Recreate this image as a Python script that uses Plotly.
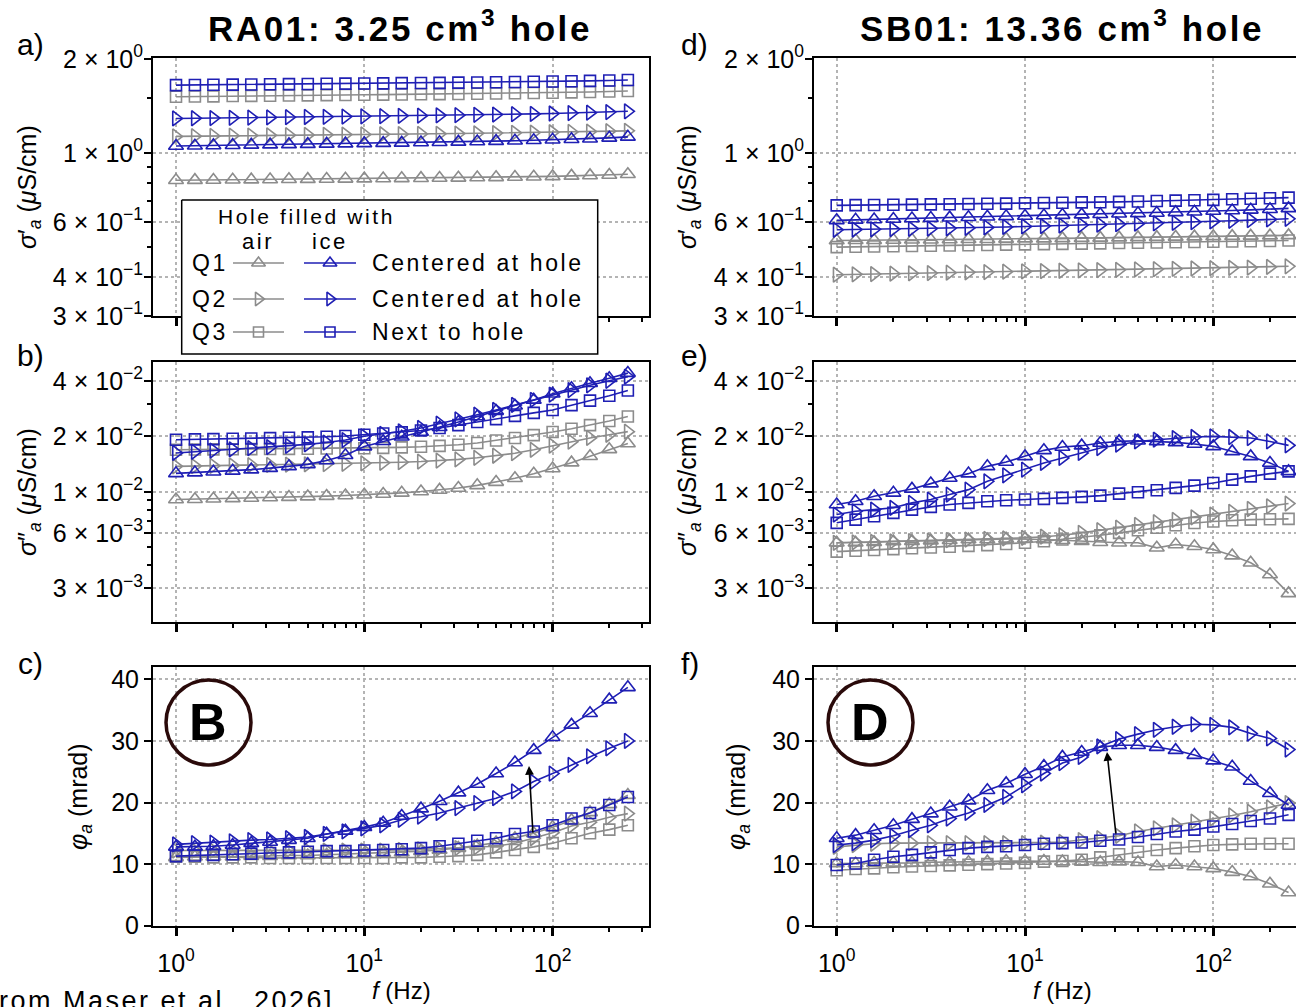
import plotly.graph_objects as go

W, H = 1296, 1007
FONT = "Liberation Sans, Arial, sans-serif"
BLUE = "#1f1fb4"
GRAY = "#8c8c8c"

# ---------------- data ----------------
freq = [1, 1.26, 1.58, 2.0, 2.51, 3.16, 3.98, 5.01, 6.31, 7.94, 10, 12.6, 15.8,
        20.0, 25.1, 31.6, 39.8, 50.1, 63.1, 79.4, 100, 126, 158, 200, 251]

series_names = ["Q1 air", "Q2 air", "Q3 air", "Q1 ice", "Q2 ice", "Q3 ice"]

# RA01 real conductivity (uS/cm)
ra_sr_q1_air = [0.817,0.818,0.819,0.820,0.821,0.822,0.823,0.824,0.825,0.826,0.827,0.828,0.829,0.830,0.831,0.832,0.834,0.835,0.837,0.839,0.841,0.844,0.847,0.850,0.854]
ra_sr_q2_air = [1.130,1.132,1.134,1.136,1.137,1.139,1.140,1.142,1.143,1.145,1.146,1.148,1.149,1.151,1.152,1.154,1.156,1.158,1.160,1.162,1.165,1.168,1.171,1.174,1.177]
ra_sr_q3_air = [1.514,1.517,1.519,1.522,1.524,1.526,1.528,1.530,1.532,1.534,1.536,1.538,1.540,1.542,1.544,1.546,1.549,1.551,1.554,1.557,1.560,1.564,1.568,1.574,1.580]
ra_sr_q1_ice = [1.053,1.055,1.057,1.059,1.061,1.063,1.065,1.067,1.069,1.071,1.073,1.075,1.077,1.080,1.082,1.085,1.088,1.091,1.094,1.098,1.102,1.106,1.111,1.118,1.126]
ra_sr_q2_ice = [1.290,1.292,1.294,1.296,1.298,1.300,1.302,1.304,1.306,1.308,1.310,1.312,1.315,1.317,1.320,1.322,1.325,1.328,1.331,1.334,1.338,1.342,1.346,1.352,1.360]
ra_sr_q3_ice = [1.650,1.652,1.654,1.656,1.658,1.660,1.662,1.664,1.666,1.668,1.670,1.672,1.674,1.676,1.678,1.681,1.683,1.686,1.689,1.692,1.695,1.698,1.702,1.707,1.713]

# RA01 imaginary conductivity (uS/cm)
ra_si_q1_air = [0.00909,0.00913,0.00918,0.00922,0.00927,0.00932,0.00937,0.00943,0.00949,0.00956,0.00965,0.00975,0.00988,0.01005,0.01025,0.01050,0.01085,0.01130,0.01185,0.01255,0.01340,0.01440,0.01560,0.01700,0.01830]
ra_si_q2_air = [0.01375,0.01380,0.01385,0.01390,0.01395,0.01400,0.01405,0.01410,0.01415,0.01420,0.01428,0.01437,0.01448,0.01460,0.01478,0.01500,0.01530,0.01570,0.01620,0.01690,0.01780,0.01870,0.01960,0.02040,0.02120]
ra_si_q3_air = [0.01693,0.01696,0.01699,0.01702,0.01705,0.01708,0.01711,0.01714,0.01717,0.01720,0.01725,0.01732,0.01742,0.01755,0.01775,0.01800,0.01840,0.01900,0.01960,0.02030,0.02110,0.02200,0.02300,0.02420,0.02560]
ra_si_q1_ice = [0.01260,0.01272,0.01285,0.01300,0.01320,0.01345,0.01375,0.01410,0.01480,0.01580,0.01760,0.01880,0.01990,0.02110,0.02240,0.02390,0.02560,0.02740,0.02930,0.03150,0.03400,0.03640,0.03880,0.04130,0.04400]
ra_si_q2_ice = [0.01625,0.01650,0.01675,0.01700,0.01725,0.01750,0.01775,0.01810,0.01850,0.01910,0.02000,0.02060,0.02130,0.02220,0.02340,0.02470,0.02620,0.02780,0.02960,0.03150,0.03360,0.03560,0.03780,0.04000,0.04210]
ra_si_q3_ice = [0.01918,0.01925,0.01932,0.01940,0.01948,0.01956,0.01965,0.01975,0.01990,0.02010,0.02040,0.02070,0.02100,0.02150,0.02220,0.02300,0.02390,0.02480,0.02580,0.02680,0.02780,0.02950,0.03120,0.03320,0.03540]

# RA01 phase (mrad)
ra_ph_q1_air = [11.1,11.2,11.2,11.2,11.3,11.3,11.4,11.4,11.5,11.6,11.7,11.8,11.9,12.1,12.3,12.6,13.0,13.5,14.2,15.0,16.0,17.1,18.4,19.7,21.2]
ra_ph_q2_air = [12.2,12.2,12.2,12.2,12.2,12.2,12.2,12.2,12.2,12.2,12.2,12.2,12.3,12.4,12.5,12.6,12.7,12.9,13.4,14.2,15.1,16.2,16.8,17.6,18.2]
ra_ph_q3_air = [11.2,11.2,11.1,11.1,11.1,11.0,11.0,11.0,11.0,11.0,11.0,11.0,11.1,11.1,11.2,11.3,11.5,11.9,12.3,12.8,13.4,14.2,15.0,15.6,16.3]
ra_ph_q1_ice = [12.8,12.8,12.9,13.1,13.4,13.6,13.9,14.2,14.9,15.4,16.0,16.7,17.8,19.0,20.2,21.6,23.0,24.7,26.5,28.5,30.6,32.6,34.5,36.7,38.7]
ra_ph_q2_ice = [13.2,13.4,13.5,13.7,13.9,14.0,14.2,14.4,14.9,15.3,15.8,16.3,17.2,17.7,18.3,19.1,19.9,20.7,21.8,23.4,24.7,26.1,27.5,28.8,30.0]
ra_ph_q3_ice = [11.3,11.4,11.5,11.6,11.7,11.8,11.9,12.0,12.1,12.1,12.2,12.3,12.4,12.6,12.9,13.3,13.8,14.2,14.9,15.3,16.3,17.4,18.3,19.6,20.9]

# SB01 real conductivity (uS/cm)
sb_sr_q1_air = [0.524,0.525,0.525,0.526,0.527,0.527,0.528,0.529,0.529,0.530,0.531,0.531,0.532,0.533,0.534,0.535,0.536,0.537,0.538,0.539,0.540,0.541,0.542,0.543,0.544]
sb_sr_q2_air = [0.407,0.408,0.409,0.410,0.411,0.412,0.413,0.414,0.415,0.416,0.417,0.418,0.419,0.420,0.421,0.422,0.423,0.424,0.425,0.426,0.427,0.428,0.429,0.431,0.433]
sb_sr_q3_air = [0.499,0.500,0.501,0.502,0.503,0.504,0.505,0.506,0.507,0.508,0.509,0.510,0.511,0.512,0.513,0.514,0.515,0.516,0.517,0.518,0.519,0.520,0.521,0.522,0.524]
sb_sr_q1_ice = [0.608,0.610,0.612,0.614,0.616,0.618,0.620,0.622,0.624,0.626,0.628,0.630,0.632,0.634,0.636,0.638,0.640,0.642,0.645,0.648,0.651,0.654,0.657,0.660,0.664]
sb_sr_q2_ice = [0.567,0.568,0.569,0.570,0.571,0.572,0.573,0.575,0.577,0.579,0.581,0.583,0.585,0.587,0.589,0.591,0.593,0.595,0.597,0.600,0.603,0.606,0.609,0.612,0.615]
sb_sr_q3_ice = [0.679,0.680,0.681,0.682,0.683,0.684,0.685,0.686,0.687,0.688,0.690,0.691,0.692,0.694,0.695,0.697,0.699,0.701,0.703,0.705,0.707,0.710,0.713,0.716,0.719]

# SB01 imaginary conductivity (uS/cm)
sb_si_q1_air = [0.00530,0.00530,0.00534,0.00539,0.00541,0.00545,0.00547,0.00552,0.00552,0.00557,0.00557,0.00552,0.00547,0.00541,0.00534,0.00530,0.00530,0.00498,0.00519,0.00508,0.00488,0.00452,0.00413,0.00357,0.00282]
sb_si_q2_air = [0.00530,0.00533,0.00536,0.00539,0.00542,0.00545,0.00548,0.00552,0.00556,0.00560,0.00564,0.00572,0.00582,0.00600,0.00620,0.00640,0.00662,0.00685,0.00705,0.00728,0.00754,0.00780,0.00808,0.00836,0.00865]
sb_si_q3_air = [0.00475,0.00480,0.00485,0.00490,0.00495,0.00500,0.00505,0.00510,0.00515,0.00522,0.00530,0.00540,0.00552,0.00565,0.00582,0.00600,0.00620,0.00640,0.00660,0.00678,0.00692,0.00702,0.00708,0.00711,0.00714]
sb_si_q1_ice = [0.00854,0.00890,0.00947,0.00988,0.01038,0.01109,0.01190,0.01256,0.01375,0.01452,0.01557,0.01679,0.01750,0.01780,0.01839,0.01877,0.01892,0.01877,0.01854,0.01817,0.01765,0.01657,0.01557,0.01435,0.01292]
sb_si_q2_ice = [0.00754,0.00785,0.00802,0.00820,0.00872,0.00909,0.00967,0.01029,0.01141,0.01229,0.01320,0.01435,0.01527,0.01625,0.01729,0.01802,0.01877,0.01918,0.01958,0.01983,0.01998,0.01983,0.01958,0.01877,0.01787]
sb_si_q3_ice = [0.00680,0.00708,0.00738,0.00770,0.00802,0.00830,0.00854,0.00872,0.00890,0.00901,0.00909,0.00917,0.00928,0.00940,0.00955,0.00979,0.00995,0.01020,0.01051,0.01081,0.01118,0.01166,0.01214,0.01256,0.01292]

# SB01 phase (mrad)
sb_ph_q1_air = [10.1,10.1,10.2,10.2,10.2,10.3,10.3,10.3,10.4,10.5,10.5,10.5,10.4,10.4,10.3,10.4,10.3,9.6,9.85,9.6,9.3,8.7,8.0,6.8,5.4]
sb_ph_q2_air = [12.8,13.1,13.3,13.4,13.4,13.4,13.4,13.4,13.4,13.4,13.4,13.5,13.6,13.9,14.2,14.6,15.3,15.8,16.3,16.9,17.4,17.9,18.5,19.2,19.9]
sb_ph_q3_air = [9.0,9.2,9.3,9.5,9.6,9.7,9.8,9.9,10.0,10.1,10.2,10.4,10.5,10.7,11.1,11.6,12.0,12.3,12.6,12.9,13.1,13.2,13.3,13.3,13.3]
sb_ph_q1_ice = [14.2,14.7,15.5,16.3,17.3,18.2,19.3,20.3,22.0,23.1,24.6,25.9,27.4,28.2,29.0,29.3,29.3,29.0,28.5,27.7,26.8,25.8,23.5,21.5,19.6]
sb_ph_q2_ice = [13.1,13.4,13.9,14.6,15.5,16.3,17.4,18.3,19.6,20.9,22.8,24.7,26.4,27.4,29.1,30.3,31.1,31.8,32.3,32.7,32.6,32.2,31.2,30.4,28.6]
sb_ph_q3_ice = [9.85,10.1,10.7,11.2,11.5,11.9,12.3,12.6,12.8,12.9,13.1,13.3,13.4,13.5,13.8,14.0,14.4,14.9,15.3,15.6,16.1,16.5,17.0,17.4,18.0]

# tick labels
x_tickvals = [1, 10, 100]
x_ticktext = ["10<sup>0</sup>", "10<sup>1</sup>", "10<sup>2</sup>"]
sr_tickvals = [2, 1, 0.6, 0.4, 0.3]
sr_ticktext = ["2 × 10<sup>0</sup>", "1 × 10<sup>0</sup>", "6 × 10<sup>−1</sup>", "4 × 10<sup>−1</sup>", "3 × 10<sup>−1</sup>"]
si_tickvals = [0.04, 0.02, 0.01, 0.006, 0.003]
si_ticktext = ["4 × 10<sup>−2</sup>", "2 × 10<sup>−2</sup>", "1 × 10<sup>−2</sup>", "6 × 10<sup>−3</sup>", "3 × 10<sup>−3</sup>"]
ph_tickvals = [0, 10, 20, 30, 40]

# ---------------- layout geometry (pixels) ----------------
def px(x):
    return x / W

def py(y):
    return 1 - y / H

LEFT_X = (153, 649)
RIGHT_X = (814, 1296)
ROWS_Y = [(58.3, 316.0), (362.3, 621.7), (666.7, 925.7)]
X1_PX = {"L": 176.0, "R": 836.7}
DEC = 188.3

sr_range = [-0.5229, 0.3035]
si_range = [-2.703, -1.298]
ph_range = [0, 42.05]

symbols = ["triangle-up-open", "triangle-right-open", "square-open"] * 2
colors = [GRAY] * 3 + [BLUE] * 3
sizes = [13, 13, 11, 13, 13, 11]

panels = [
    ("L", 0, [ra_sr_q1_air, ra_sr_q2_air, ra_sr_q3_air, ra_sr_q1_ice, ra_sr_q2_ice, ra_sr_q3_ice]),
    ("L", 1, [ra_si_q1_air, ra_si_q2_air, ra_si_q3_air, ra_si_q1_ice, ra_si_q2_ice, ra_si_q3_ice]),
    ("L", 2, [ra_ph_q1_air, ra_ph_q2_air, ra_ph_q3_air, ra_ph_q1_ice, ra_ph_q2_ice, ra_ph_q3_ice]),
    ("R", 0, [sb_sr_q1_air, sb_sr_q2_air, sb_sr_q3_air, sb_sr_q1_ice, sb_sr_q2_ice, sb_sr_q3_ice]),
    ("R", 1, [sb_si_q1_air, sb_si_q2_air, sb_si_q3_air, sb_si_q1_ice, sb_si_q2_ice, sb_si_q3_ice]),
    ("R", 2, [sb_ph_q1_air, sb_ph_q2_air, sb_ph_q3_air, sb_ph_q1_ice, sb_ph_q2_ice, sb_ph_q3_ice]),
]

fig = go.Figure()
layout = {}

x_minor = [2, 3, 4, 5, 6, 7, 8, 9, 20, 30, 40, 50, 60, 70, 80, 90, 200, 300]
sr_minor = [0.5, 0.7, 0.8, 0.9, 1.5]
si_minor = [0.004, 0.005, 0.007, 0.008, 0.009, 0.03]

GRID = dict(showgrid=True, gridcolor="#b4b4b4", gridwidth=2, griddash="dot")
XTICKF = dict(family=FONT, size=25, color="black")
YTICKF = dict(family=FONT, size=25, color="black")

for i, (col, row, ys) in enumerate(panels):
    n = i + 1
    xa = "xaxis" if n == 1 else f"xaxis{n}"
    ya = "yaxis" if n == 1 else f"yaxis{n}"
    xr = "x" if n == 1 else f"x{n}"
    yr = "y" if n == 1 else f"y{n}"
    xdom = LEFT_X if col == "L" else RIGHT_X
    x0 = X1_PX[col]
    xrange = [(xdom[0] - x0) / DEC, (xdom[1] - x0) / DEC]
    ytop, ybot = ROWS_Y[row]

    for k in range(6):
        fig.add_trace(go.Scatter(
            x=freq, y=ys[k], mode="lines+markers", name=series_names[k],
            xaxis=xr, yaxis=yr, showlegend=False,
            line=dict(color=colors[k], width=1.6),
            marker=dict(symbol=symbols[k], size=sizes[k], color=colors[k],
                        line=dict(color=colors[k], width=1.6)),
        ))

    layout[xa] = dict(
        type="log", domain=[px(xdom[0]), px(xdom[1])], range=xrange, anchor=yr,
        showline=True, linecolor="black", linewidth=2, mirror=True,
        ticks="outside", ticklen=8, tickwidth=2.5, tickcolor="black",
        tickvals=x_tickvals, ticktext=x_ticktext, showticklabels=(row == 2),
        ticklabelstandoff=6,
        tickfont=XTICKF, zeroline=False, automargin=False,
        minor=dict(tickvals=x_minor, ticks="outside", ticklen=4, tickwidth=1.5,
                   tickcolor="black", showgrid=False),
        **GRID,
    )
    ydict = dict(
        domain=[py(ybot), py(ytop)], anchor=xr,
        showline=True, linecolor="black", linewidth=2, mirror=(col == "L"),
        ticks="outside", ticklen=7, tickwidth=2, tickcolor="black",
        ticklabelstandoff=-4,
        tickfont=YTICKF, zeroline=False, automargin=False, **GRID,
    )
    if row == 0:
        ydict.update(type="log", range=sr_range, tickvals=sr_tickvals, ticktext=sr_ticktext,
                     minor=dict(tickvals=sr_minor, ticks="outside", ticklen=4, tickwidth=1.5,
                                tickcolor="black", showgrid=False))
    elif row == 1:
        ydict.update(type="log", range=si_range, tickvals=si_tickvals, ticktext=si_ticktext,
                     minor=dict(tickvals=si_minor, ticks="outside", ticklen=4, tickwidth=1.5,
                                tickcolor="black", showgrid=False))
    else:
        ydict.update(type="linear", range=ph_range, tickvals=ph_tickvals,
                     tickfont=dict(family=FONT, size=25, color="black"), ticklabelstandoff=0)
    layout[ya] = ydict

# overlay pixel axes for the custom legend box
layout["xaxis7"] = dict(domain=[0, 1], range=[0, W], visible=False, fixedrange=True,
                        anchor="y7", automargin=False)
layout["yaxis7"] = dict(domain=[0, 1], range=[H, 0], visible=False, fixedrange=True,
                        anchor="x7", automargin=False)

LBOX = (181.7, 200, 597.7, 354)
fig.add_trace(go.Scatter(
    x=[LBOX[0], LBOX[2], LBOX[2], LBOX[0], LBOX[0]],
    y=[LBOX[1], LBOX[1], LBOX[3], LBOX[3], LBOX[1]],
    mode="lines", fill="toself", fillcolor="white",
    line=dict(color="black", width=1.5), xaxis="x7", yaxis="y7",
    showlegend=False, hoverinfo="skip"))

leg_rows = [263, 299, 332]
air_seg = (233, 284)
ice_seg = (304, 356)
for r, yy in enumerate(leg_rows):
    for seg, k in ((air_seg, r), (ice_seg, r + 3)):
        fig.add_trace(go.Scatter(x=[seg[0], seg[1]], y=[yy, yy], mode="lines",
                                 line=dict(color=colors[k], width=1.6),
                                 xaxis="x7", yaxis="y7", showlegend=False, hoverinfo="skip"))
        fig.add_trace(go.Scatter(x=[(seg[0] + seg[1]) / 2], y=[yy], mode="markers",
                                 marker=dict(symbol=symbols[k], size=sizes[k] - 1, color=colors[k],
                                             line=dict(color=colors[k], width=1.6)),
                                 xaxis="x7", yaxis="y7", showlegend=False, hoverinfo="skip"))

def sp(text, ls):
    return f"<span style='letter-spacing:{ls}px'>{text}</span>"

ann = []

def add_text(text, x, y, size, xanchor="center", yanchor="middle", angle=0, color="black"):
    ann.append(dict(text=text, x=px(x), y=py(y), xref="paper", yref="paper",
                    xanchor=xanchor, yanchor=yanchor, showarrow=False, textangle=angle,
                    font=dict(family=FONT, size=size, color=color)))

# legend texts
LS = 2.6
add_text(sp("Hole filled with", LS), 216, 216, 21, xanchor="left")
add_text(sp("air", LS), 258, 241, 22)
add_text(sp("ice", LS), 330, 241, 22)
for yy, q in zip(leg_rows, ["Q1", "Q2", "Q3"]):
    add_text(sp(q, LS), 190, yy, 23, xanchor="left")
for yy, t in zip(leg_rows, ["Centered at hole", "Centered at hole", "Next to hole"]):
    add_text(sp(t, LS), 370, yy, 23, xanchor="left")

# titles
add_text(sp("<b>RA01: 3.25 cm<sup>3</sup> hole</b>", 2.6), 400, 26, 35)
add_text(sp("<b>SB01: 13.36 cm<sup>3</sup> hole</b>", 2.6), 1062, 26, 35)

# panel letters
for lab, x, y in [("a)", 30, 45), ("b)", 30, 355), ("c)", 30, 663),
                  ("d)", 694, 45), ("e)", 694, 355), ("f)", 690, 663)]:
    add_text(lab, x, y, 30)

# axis titles
ylab_sr = "<i>σ</i>′<sub><i>a</i></sub> (<i>μ</i>S/cm)"
ylab_si = "<i>σ</i>″<sub><i>a</i></sub> (<i>μ</i>S/cm)"
ylab_ph = "<i>φ</i><sub><i>a</i></sub> (mrad)"
add_text(ylab_sr, 29, 187, 25, angle=-90)
add_text(ylab_si, 29, 492, 25, angle=-90)
add_text(ylab_ph, 80, 797, 25, angle=-90)
add_text(ylab_sr, 689, 187, 25, angle=-90)
add_text(ylab_si, 689, 492, 25, angle=-90)
add_text(ylab_ph, 738, 797, 25, angle=-90)
add_text("<i>f</i> (Hz)", 401, 990, 24)
add_text("<i>f</i> (Hz)", 1062, 990, 24)

# B / D labels
add_text("<b>B</b>", 208, 722, 52)
add_text("<b>D</b>", 870, 722, 52)

# citation (cut at bottom edge, as in the reference)
add_text(sp("[from Maser et al., 2026]", 2.5), 336, 984, 27, xanchor="right", yanchor="top")

# arrows
ann.append(dict(x=px(529), y=py(766), xref="paper", yref="paper", ax=4, ay=68,
                showarrow=True, arrowhead=2, arrowsize=1.1, arrowwidth=1.6, arrowcolor="black", text=""))
ann.append(dict(x=px(1107), y=py(752), xref="paper", yref="paper", ax=9, ay=83,
                showarrow=True, arrowhead=2, arrowsize=1.1, arrowwidth=1.6, arrowcolor="black", text=""))

shapes = [
    dict(type="circle", xref="paper", yref="paper", x0=px(166), x1=px(251), y0=py(765), y1=py(680),
         line=dict(color="#2a0a0a", width=3.5)),
    dict(type="circle", xref="paper", yref="paper", x0=px(828), x1=px(913), y0=py(765), y1=py(680),
         line=dict(color="#2a0a0a", width=3.5)),
]

fig.update_layout(
    width=W, height=H, margin=dict(l=0, r=0, t=0, b=0, pad=0, autoexpand=False),
    paper_bgcolor="white", plot_bgcolor="rgba(0,0,0,0)",
    font=dict(family=FONT, color="black"),
    annotations=ann, shapes=shapes, showlegend=False,
    **layout,
)

fig.write_html("out.html")
